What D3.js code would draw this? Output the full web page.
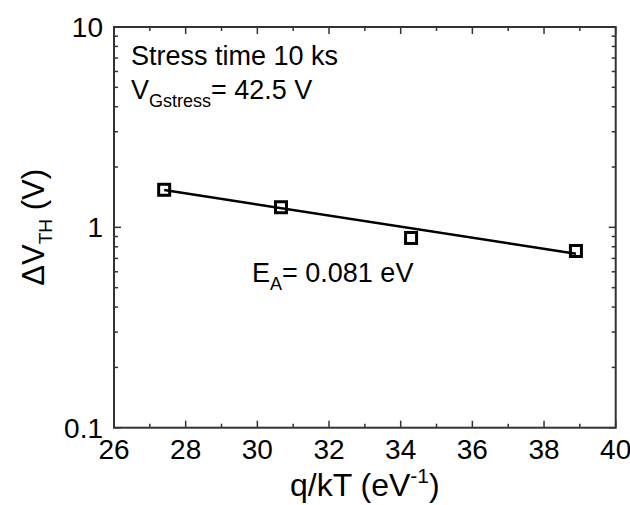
<!DOCTYPE html>
<html><head><meta charset="utf-8">
<script src="https://cdn.jsdelivr.net/npm/d3@7"></script>
<style>body{margin:0;background:#fff}svg{display:block}text{font-family:"Liberation Sans",Arial,sans-serif;fill:#000}</style>
</head><body>
<svg id="c" width="630" height="505"></svg>
<script>
const xValues = [27.40, 30.66, 34.29, 38.89];
const yValues = [1.54, 1.26, 0.885, 0.762];
const fitX = [27.40, 38.89];
const fitY = [1.535, 0.739];
const xTicks = [26, 28, 30, 32, 34, 36, 38, 40];
const yTicks = [0.1, 1, 10];

const svg = d3.select("#c");
const L = 114, R = 615.7, T = 27, B = 427.7;
const x = d3.scaleLinear().domain([26, 40]).range([L, R]);
const y = d3.scaleLog().domain([0.1, 10]).range([B, T]);
const axisColor = "#333";

const xMinor = d3.range(27, 40, 2);
const yMinor = [];
[0.1, 1].forEach(d => { for (let k = 2; k <= 9; k++) yMinor.push(d * k); });

const g = svg.append("g").attr("stroke", axisColor).attr("stroke-width", 1.5);
function tk(x1, y1, x2, y2) { g.append("line").attr("x1", x1).attr("y1", y1).attr("x2", x2).attr("y2", y2); }
xTicks.forEach(v => { tk(x(v), B, x(v), B - 7); tk(x(v), T, x(v), T + 7); });
xMinor.forEach(v => { tk(x(v), B, x(v), B - 4); tk(x(v), T, x(v), T + 4); });
yTicks.forEach(v => { tk(L, y(v), L + 7, y(v)); tk(R, y(v), R - 7, y(v)); });
yMinor.forEach(v => { tk(L, y(v), L + 4, y(v)); tk(R, y(v), R - 4, y(v)); });
svg.append("rect").attr("x", L).attr("y", T).attr("width", R - L).attr("height", B - T)
  .attr("fill", "none").attr("stroke", axisColor).attr("stroke-width", 2);

svg.append("g").selectAll("text").data(xTicks).join("text")
  .attr("x", d => x(d)).attr("y", 459).attr("text-anchor", "middle").attr("font-size", 28).text(d => d);
svg.append("g").selectAll("text").data(yTicks).join("text")
  .attr("x", 103).attr("y", d => y(d) + 10).attr("text-anchor", "end").attr("font-size", 28).text(d => d);

const line = d3.line().x(d => x(d[0])).y(d => y(d[1]));
svg.append("path").datum(fitX.map((v, i) => [v, fitY[i]])).attr("d", line)
  .attr("fill", "none").attr("stroke", "#000").attr("stroke-width", 2.5);

svg.append("g").selectAll("rect").data(xValues.map((v, i) => [v, yValues[i]])).join("rect")
  .attr("x", d => x(d[0]) - 5.5).attr("y", d => y(d[1]) - 5.5).attr("width", 11).attr("height", 11)
  .attr("fill", "none").attr("stroke", "#000").attr("stroke-width", 3);

svg.append("text").attr("x", 131).attr("y", 65).attr("font-size", 27).text("Stress time 10 ks");
const t2 = svg.append("text").attr("x", 131).attr("y", 99).attr("font-size", 27);
t2.append("tspan").text("V");
t2.append("tspan").attr("font-size", 18).attr("dy", 8).text("Gstress");
t2.append("tspan").attr("dy", -8).text("= 42.5 V");

const t3 = svg.append("text").attr("x", 252).attr("y", 282).attr("font-size", 27);
t3.append("tspan").text("E");
t3.append("tspan").attr("font-size", 18).attr("dy", 8).text("A");
t3.append("tspan").attr("dy", -8).text("= 0.081 eV");

const xt = svg.append("text").attr("x", (L + R) / 2).attr("y", 496).attr("text-anchor", "middle").attr("font-size", 32);
xt.append("tspan").text("q/kT (eV");
xt.append("tspan").attr("font-size", 21).attr("dy", -13).text("-1");
xt.append("tspan").attr("dy", 13).text(")");

const yt = svg.append("text").attr("transform", `translate(44,${(T + B) / 2}) rotate(-90)`).attr("text-anchor", "middle").attr("font-size", 31);
yt.append("tspan").text("ΔV");
yt.append("tspan").attr("font-size", 19).attr("dy", 8).text("TH");
yt.append("tspan").attr("dy", -8).text(" (V)");
</script>
</body></html>
